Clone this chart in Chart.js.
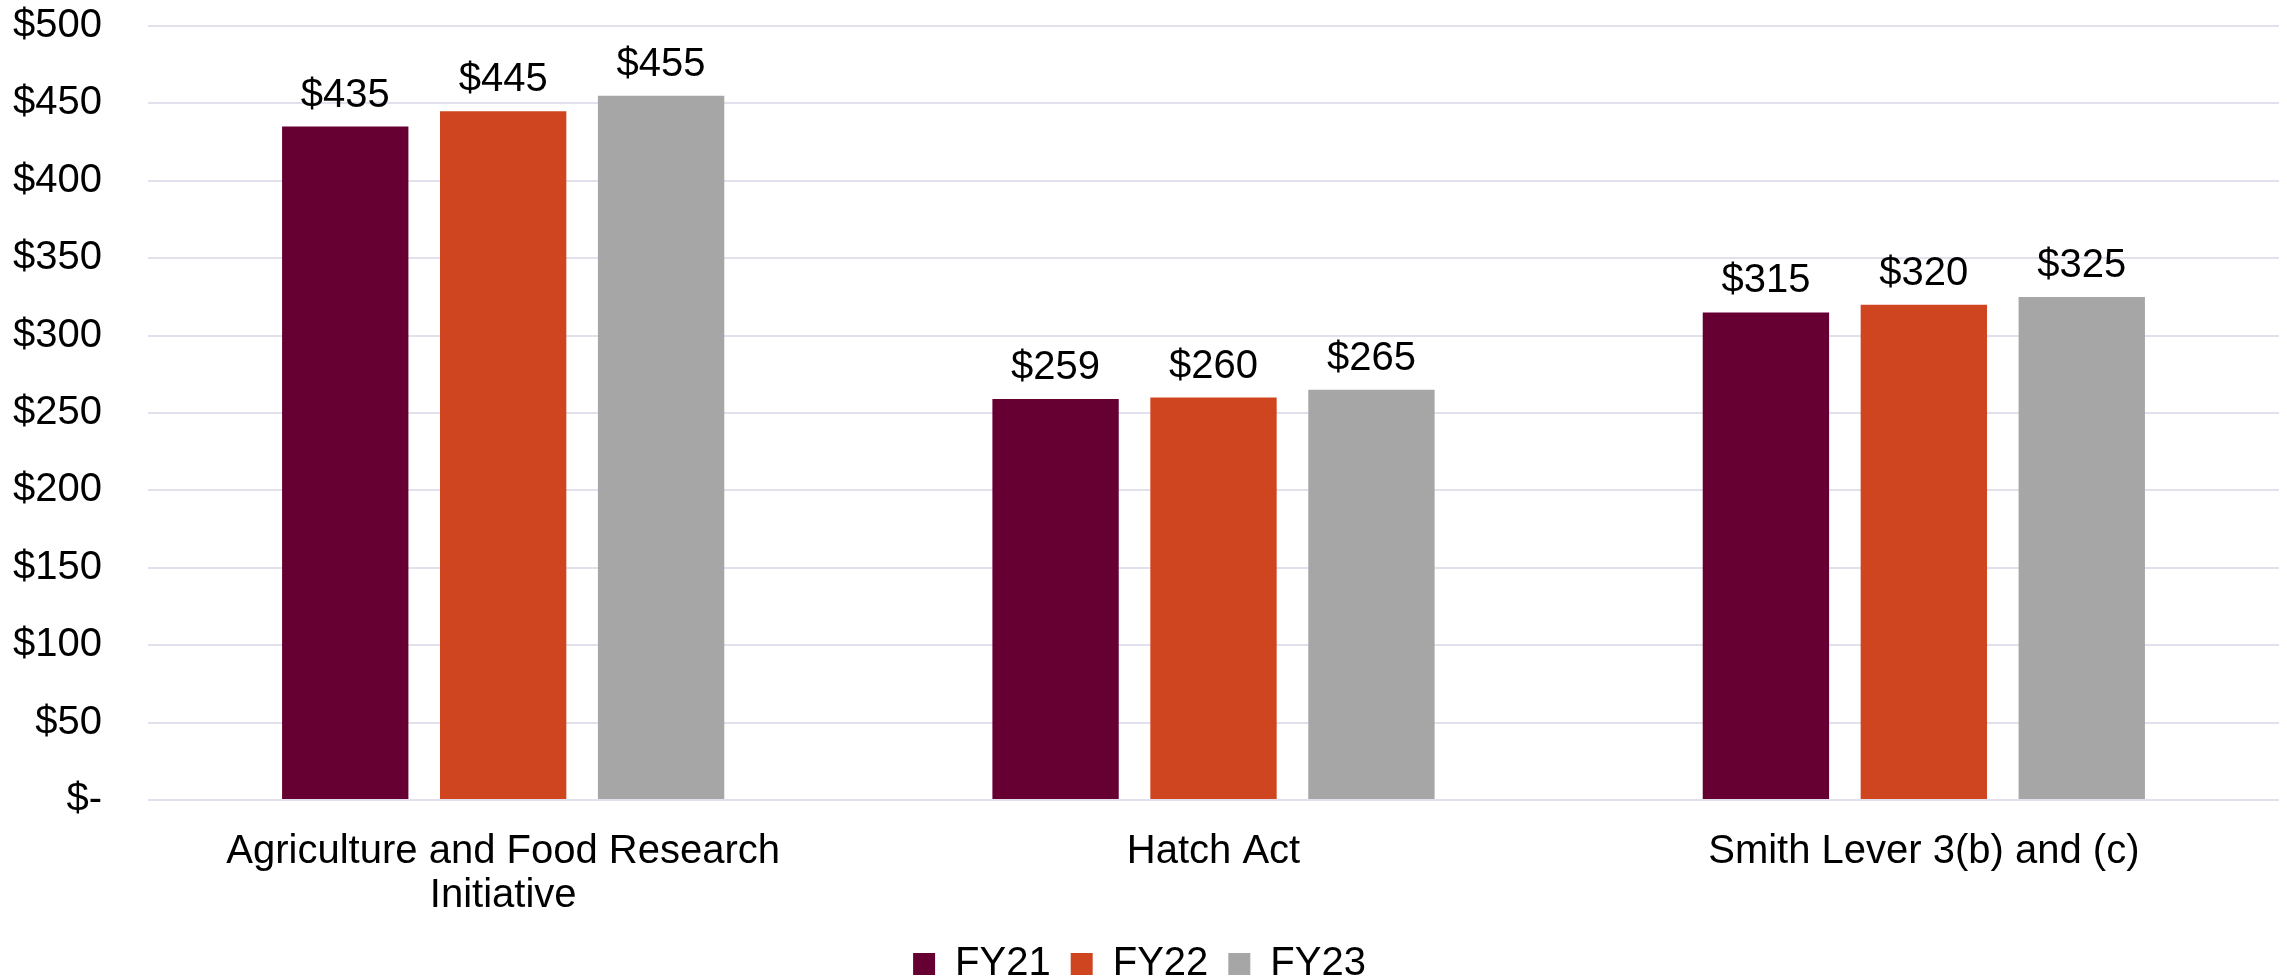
<!DOCTYPE html>
<html>
<head>
<meta charset="utf-8">
<title>Funding FY21-FY23</title>
<script src="https://cdn.jsdelivr.net/npm/chart.js@4"></script>
<style>
  html, body { margin: 0; padding: 0; background: #fff; }
  #wrap { width: 2287px; height: 980px; position: relative; }
</style>
</head>
<body>
<div id="wrap"><canvas id="grafico"></canvas></div>
<script>
// dados do gráfico
const categorias = [["Agriculture and Food Research", "Initiative"], "Hatch Act", "Smith Lever 3(b) and (c)"];
const anos = ["FY21", "FY22", "FY23"];
const fy21 = [435, 259, 315];
const fy22 = [445, 260, 320];
const fy23 = [455, 265, 325];
const cores = ["#660033", "#CF4520", "#A6A6A6"];

const fonte = "'Liberation Sans', Arial, sans-serif";
const tamanho = 40;

// formata valores como no original ($- para zero)
function formatarDolar(v) {
    return v === 0 ? "$-" : "$" + v;
}

// plugin simples para escrever o valor acima de cada barra
const rotulosBarras = {
    id: "rotulosBarras",
    afterDatasetsDraw(chart) {
        const ctx = chart.ctx;
        ctx.save();
        ctx.font = tamanho + "px " + fonte;
        ctx.fillStyle = "#000";
        ctx.textAlign = "center";
        ctx.textBaseline = "alphabetic";
        chart.data.datasets.forEach((ds, i) => {
            chart.getDatasetMeta(i).data.forEach((barra, j) => {
                ctx.fillText(formatarDolar(ds.data[j]), barra.x, barra.y - 20);
            });
        });
        ctx.restore();
    }
};

const series = [fy21, fy22, fy23];

new Chart(document.getElementById("grafico"), {
    type: "bar",
    data: {
        labels: categorias,
        datasets: anos.map((ano, i) => ({
            label: ano,
            data: series[i],
            backgroundColor: cores[i],
            borderWidth: 0,
            categoryPercentage: 0.667,
            barPercentage: 0.8
        }))
    },
    options: {
        responsive: true,
        maintainAspectRatio: false,
        animation: false,
        layout: { padding: { left: 0, right: 8, top: 0, bottom: -14 } },
        plugins: {
            tooltip: { enabled: false },
            legend: {
                position: "bottom",
                labels: {
                    font: { family: fonte, size: tamanho },
                    color: "#000",
                    boxWidth: 22,
                    boxHeight: 22,
                    padding: 20
                }
            }
        },
        scales: {
            x: {
                grid: { display: false, drawTicks: false },
                border: { display: false },
                ticks: {
                    font: { family: fonte, size: tamanho, lineHeight: 1.1 },
                    color: "#000",
                    padding: 30,
                    maxRotation: 0,
                    autoSkip: false
                },
                afterFit: s => { s.height = 124; s.paddingLeft = 0; s.paddingRight = 0; }
            },
            y: {
                min: 0,
                max: 500,
                grid: { color: "#E2E0EC", lineWidth: 2, drawTicks: false },
                border: { display: false },
                ticks: {
                    stepSize: 50,
                    font: { family: fonte, size: tamanho },
                    color: "#000",
                    padding: 46,
                    callback: v => formatarDolar(v)
                },
                afterFit: s => { s.width = 148; s.paddingTop = 26; s.paddingBottom = 0; }
            }
        }
    },
    plugins: [rotulosBarras]
});
</script>
</body>
</html>
